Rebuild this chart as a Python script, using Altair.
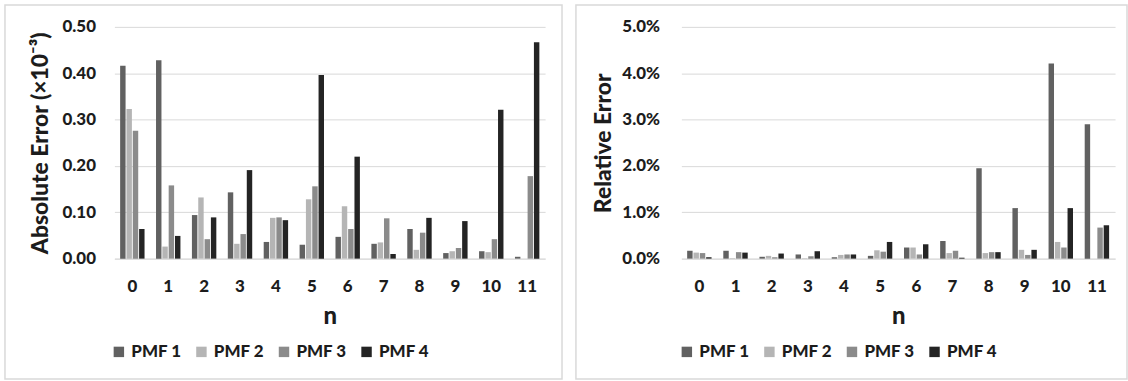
import altair as alt
import pandas as pd

n_values = list(range(12))
series = ["PMF 1", "PMF 2", "PMF 3", "PMF 4"]
colors = ["#616161", "#b5b5b5", "#8b8b8b", "#242424"]

# Absolute error (x10^-3) per n, one list per PMF
abs_pmf1 = [0.416, 0.428, 0.094, 0.143, 0.036, 0.030, 0.047, 0.032, 0.064, 0.012, 0.016, 0.004]
abs_pmf2 = [0.323, 0.026, 0.132, 0.032, 0.088, 0.128, 0.113, 0.035, 0.019, 0.016, 0.014, 0.000]
abs_pmf3 = [0.276, 0.158, 0.042, 0.053, 0.089, 0.156, 0.064, 0.087, 0.056, 0.023, 0.042, 0.178]
abs_pmf4 = [0.064, 0.049, 0.089, 0.191, 0.083, 0.396, 0.220, 0.010, 0.088, 0.081, 0.321, 0.467]

# Relative error per n, one list per PMF
rel_pmf1 = [0.0017, 0.0017, 0.0004, 0.0009, 0.0003, 0.0006, 0.0024, 0.0038, 0.0195, 0.0109, 0.0421, 0.0290]
rel_pmf2 = [0.0013, 0.0001, 0.0006, 0.0001, 0.0008, 0.0018, 0.0024, 0.0012, 0.0012, 0.0019, 0.0036, 0.0000]
rel_pmf3 = [0.0012, 0.0014, 0.0003, 0.0005, 0.0009, 0.0015, 0.0009, 0.0017, 0.0014, 0.0008, 0.0024, 0.0067]
rel_pmf4 = [0.0003, 0.0013, 0.0011, 0.0016, 0.0009, 0.0036, 0.0031, 0.0002, 0.0014, 0.0019, 0.0109, 0.0072]

abs_tick_values = [0.0, 0.1, 0.2, 0.3, 0.4, 0.5]
rel_tick_values = [0.0, 0.01, 0.02, 0.03, 0.04, 0.05]

FONT = "Lato"
WEIGHT = 900
TEXT = "#1c1c1c"
GRID = "#d9d9d9"


def long_table(lists):
    rows = []
    for name, vals in zip(series, lists):
        for n, v in zip(n_values, vals):
            rows.append({"n": n, "series": name, "value": v})
    return pd.DataFrame(rows)


abs_df = long_table([abs_pmf1, abs_pmf2, abs_pmf3, abs_pmf4])
rel_df = long_table([rel_pmf1, rel_pmf2, rel_pmf3, rel_pmf4])
frame_df = pd.DataFrame({"k": [0]})


def panel(df, y_title, ticks, fmt, width, frame, legend_x, label_pad, title_pad):
    color = alt.Color(
        "series:N",
        scale=alt.Scale(domain=series, range=colors),
        legend=alt.Legend(
            title=None,
            orient="none",
            direction="horizontal",
            legendX=legend_x,
            legendY=318,
            symbolType="square",
            symbolSize=110,
            symbolStrokeWidth=0,
            labelFont=FONT,
            labelFontSize=17,
            labelFontWeight=WEIGHT,
            labelColor=TEXT,
            labelOffset=4,
            columnPadding=11,
            padding=0,
        ),
    )
    bars = alt.Chart(df).mark_bar().encode(
        x=alt.X(
            "n:O",
            title="n",
            scale=alt.Scale(paddingInner=0.32, paddingOuter=0.16),
            axis=alt.Axis(
                labelAngle=0,
                ticks=False,
                domainColor=GRID,
                labelPadding=20,
                titlePadding=10,
                titleFontSize=24,
                labelFontSize=17,
            ),
        ),
        xOffset=alt.XOffset("series:N", sort=series, scale=alt.Scale(paddingInner=0.14)),
        y=alt.Y(
            "value:Q",
            title=y_title,
            scale=alt.Scale(domain=[ticks[0], ticks[-1]], nice=False),
            axis=alt.Axis(
                values=ticks,
                format=fmt,
                domain=False,
                ticks=False,
                gridColor=GRID,
                labelPadding=label_pad,
                titlePadding=title_pad,
                labelFontSize=17,
                titleFontSize=23,
            ),
        ),
        color=color,
    )
    # panel frame drawn around axes, plot and legend
    border = alt.Chart(frame_df).mark_rect(
        fillOpacity=0, stroke=GRID, strokeWidth=1.5
    ).encode(
        x=alt.value(frame[0]),
        x2=alt.value(frame[1]),
        y=alt.value(-22),
        y2=alt.value(354),
    )
    return alt.layer(border, bars).properties(width=width, height=233)


left = panel(abs_df, "Absolute Error (×10⁻³)", abs_tick_values, ".2f", 433,
             (-110, 450), -4, 19, 10)
right = panel(rel_df, "Relative Error", rel_tick_values, ".1%", 436,
              (-106, 448), -3, 22, 6)

chart = (
    alt.hconcat(left, right, spacing=12)
    .resolve_legend(color="independent")
    .properties(padding={"left": 4, "top": 3, "right": 0, "bottom": 0})
    .configure(font=FONT)
    .configure_view(stroke=None)
    .configure_axis(
        labelFont=FONT,
        titleFont=FONT,
        labelFontWeight=WEIGHT,
        titleFontWeight=WEIGHT,
        labelColor=TEXT,
        titleColor=TEXT,
    )
)

chart.save("out.html", embed_options={"renderer": "svg", "actions": False})
